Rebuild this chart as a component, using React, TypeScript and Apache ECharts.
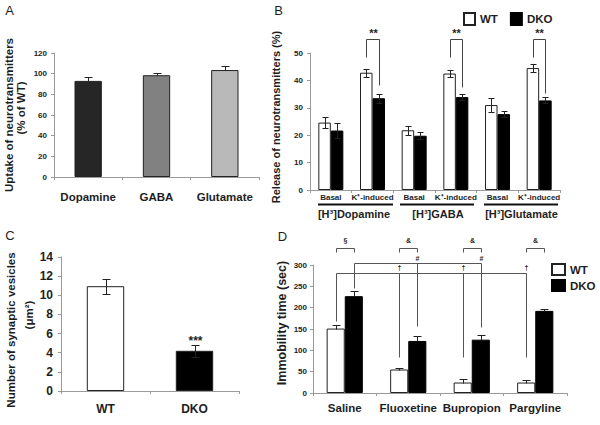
import React, { useEffect, useRef } from 'react';
import * as echarts from 'echarts';

const FONT = '"Liberation Sans", Arial, Helvetica, sans-serif';
const TXT = '#1e1e1e';
const AXIS = '#9a9a9a';

// ---------- Panel A ----------
const uptakeCategories = ['Dopamine', 'GABA', 'Glutamate'];
const uptakeValues = [93, 98.5, 103.5];
const uptakeErrors = [3.8, 2.5, 3.5];
const uptakeColors = ['#262626', '#818181', '#b9b9b9'];

// ---------- Panel B ----------
const releaseCategories = ['Basal', 'K⁺-induced', 'Basal', 'K⁺-induced', 'Basal', 'K⁺-induced'];
const releaseGroups = ['[H³]Dopamine', '[H³]GABA', '[H³]Glutamate'];
const releaseWT = [24.6, 42.8, 21.8, 42.5, 31.0, 44.5];
const releaseWTErr = [2.0, 1.5, 1.7, 1.3, 2.4, 1.5];
const releaseDKO = [21.7, 33.5, 19.8, 33.9, 27.7, 32.7];
const releaseDKOErr = [2.6, 1.7, 1.25, 1.1, 1.2, 1.1];
const releaseStarCats = [1, 3, 5];
const releaseStarWTLeg = [48.7, 48.7, 48.5];
const releaseStarDKOLeg = [38.4, 37.6, 35.4];
const releaseStarTop = 55.1;
const releaseStarText = 57.6;

// ---------- Panel C ----------
const vesicleCategories = ['WT', 'DKO'];
const vesicleValues = [10.95, 4.2];
const vesicleErrors = [0.8, 0.65];
const vesicleColors = ['#ffffff', '#000000'];

// ---------- Panel D ----------
const drugCategories = ['Saline', 'Fluoxetine', 'Bupropion', 'Pargyline'];
const immobilityWT = [151, 55, 24.5, 24.5];
const immobilityWTErr = [8.5, 3.5, 9, 7];
const immobilityDKO = [227, 122, 125, 192.5];
const immobilityDKOErr = [12.5, 12, 10.5, 5.5];
const pairSymbols = ['§', '&', '&', '&'];
const pairBracketTop = 340.6;
const pairBracketLeg = 330.5;
const pairSymbolY = 358.6;
const daggerTargets = [1, 2, 3];
const daggerLineY = 281.2;
const daggerSalineLeg = 168;
const daggerLegs = [84, 84, 84];
const daggerTextY = 294.6;
const hashTargets = [1, 2];
const hashLineY = 304;
const hashSalineLeg = 245;
const hashLegs = [157, 154];
const hashTextY = 316.4;

function errorBars(idx: number, vals: number[], errs: number[], off: number, gap: number, n: number, cap: number, both: boolean) {
  return {
    type: 'custom',
    xAxisIndex: idx,
    yAxisIndex: idx,
    silent: true,
    z: 10,
    clip: false,
    data: vals.map((v, i) => [i, v, errs[i]]),
    encode: { x: 0, y: 1 },
    renderItem: (params: any, api: any) => {
      const c = api.value(0);
      const v = api.value(1);
      const e = api.value(2);
      const band = api.size([1, 0])[0];
      const bw = (band * (1 - gap)) / n;
      const x = Math.round(api.coord([c, v])[0] + (off * bw) / 2) + 0.5;
      const yT = Math.round(api.coord([c, v + e])[1]) + 0.5;
      const yB = Math.round(api.coord([c, both ? v - e : v])[1]) + 0.5;
      const st = { stroke: '#222', lineWidth: 1 };
      const ch: any[] = [
        { type: 'line', shape: { x1: x, y1: yT, x2: x, y2: yB }, style: st },
        { type: 'line', shape: { x1: x - cap, y1: yT, x2: x + cap, y2: yT }, style: st },
      ];
      if (both) ch.push({ type: 'line', shape: { x1: x - cap, y1: yB, x2: x + cap, y2: yB }, style: st });
      return { type: 'group', children: ch };
    },
  };
}

type Pt = [number, number, number];
function annotations(idx: number, gap: number, n: number, lines: Pt[][], labels: [number, number, number, string][], font: string, color: string) {
  return {
    type: 'custom',
    xAxisIndex: idx,
    yAxisIndex: idx,
    silent: true,
    z: 11,
    clip: false,
    data: [[0, 0]],
    renderItem: (params: any, api: any) => {
      const band = api.size([1, 0])[0];
      const bw = (band * (1 - gap)) / n;
      const pt = (c: number, off: number, v: number) => {
        const p = api.coord([c, v]);
        return [Math.round(p[0] + (off * bw) / 2) + 0.5, Math.round(p[1]) + 0.5];
      };
      const ch: any[] = [];
      lines.forEach((pl) => {
        ch.push({
          type: 'polyline',
          shape: { points: pl.map((q) => pt(q[0], q[1], q[2])) },
          style: { stroke: color, lineWidth: 1, fill: null },
        });
      });
      labels.forEach((t) => {
        const p = pt(t[0], t[1], t[2]);
        ch.push({
          type: 'text',
          x: p[0],
          y: p[1],
          style: { text: t[3], fill: TXT, font, align: 'center', verticalAlign: 'middle' },
        });
      });
      return { type: 'group', children: ch };
    },
  };
}

function xCat(idx: number, data: string[], size: number, margin: number) {
  return {
    type: 'category',
    gridIndex: idx,
    data,
    axisLine: { show: true, lineStyle: { color: AXIS, width: 1 } },
    axisTick: { show: true, length: 3, lineStyle: { color: AXIS } },
    axisLabel: { color: TXT, fontFamily: FONT, fontWeight: 'bold', fontSize: size, margin, interval: 0 },
    splitLine: { show: false },
  };
}

function yVal(idx: number, max: number, interval: number, size: number, margin: number) {
  return {
    type: 'value',
    gridIndex: idx,
    min: 0,
    max,
    interval,
    axisLine: { show: true, lineStyle: { color: AXIS, width: 1 } },
    axisTick: { show: true, length: 3, lineStyle: { color: AXIS } },
    axisLabel: { color: TXT, fontFamily: FONT, fontWeight: 'bold', fontSize: size, margin },
    splitLine: { show: false },
  };
}

function rotText(x: number, y: number, text: string, size: number) {
  return {
    type: 'text',
    x,
    y,
    rotation: Math.PI / 2,
    style: { text, fill: TXT, font: `bold ${size}px ${FONT}`, align: 'center', verticalAlign: 'middle' },
  };
}

function plainText(x: number, y: number, text: string, font: string) {
  return {
    type: 'text',
    x,
    y,
    style: { text, fill: TXT, font, align: 'center', verticalAlign: 'middle' },
  };
}

export default function App() {
  const ref = useRef<HTMLDivElement>(null);
  useEffect(() => {
    if (!ref.current) return;
    const chart = echarts.init(ref.current, null, { renderer: 'svg' });

    const bLines: Pt[][] = releaseStarCats.map((c, i) => [
      [c, -1, releaseStarWTLeg[i]],
      [c, -1, releaseStarTop],
      [c, 1, releaseStarTop],
      [c, 1, releaseStarDKOLeg[i]],
    ]);
    const bLabels: [number, number, number, string][] = releaseStarCats.map((c) => [c, 0, releaseStarText, '**']);

    const dLines: Pt[][] = [];
    const dLabels: [number, number, number, string][] = [];
    pairSymbols.forEach((s, c) => {
      dLines.push([
        [c, -1, pairBracketLeg],
        [c, -1, pairBracketTop],
        [c, 1, pairBracketTop],
        [c, 1, pairBracketLeg],
      ]);
      dLabels.push([c, 0, pairSymbolY, s]);
    });
    dLines.push([
      [0, -1, daggerSalineLeg],
      [0, -1, daggerLineY],
      [daggerTargets[daggerTargets.length - 1], -1, daggerLineY],
    ]);
    daggerTargets.forEach((c, i) => {
      dLines.push([
        [c, -1, daggerLineY],
        [c, -1, daggerLegs[i]],
      ]);
      dLabels.push([c, -1, daggerTextY, '†']);
    });
    dLines.push([
      [0, 1, hashSalineLeg],
      [0, 1, hashLineY],
      [hashTargets[hashTargets.length - 1], 1, hashLineY],
    ]);
    hashTargets.forEach((c, i) => {
      dLines.push([
        [c, 1, hashLineY],
        [c, 1, hashLegs[i]],
      ]);
      dLabels.push([c, 1, hashTextY, '#']);
    });

    const whiteBar = { color: '#ffffff', borderColor: '#222', borderWidth: 1 };
    const blackBar = { color: '#000000', borderColor: '#000', borderWidth: 1 };

    const option: any = {
      animation: false,
      backgroundColor: '#ffffff',
      textStyle: { fontFamily: FONT },
      grid: [
        { left: 54, top: 53, width: 205, height: 124 },
        { left: 310, top: 53, width: 250, height: 137 },
        { left: 61, top: 257, width: 178, height: 134 },
        { left: 313, top: 265, width: 254, height: 128 },
      ],
      xAxis: [
        xCat(0, uptakeCategories, 11.5, 14),
        xCat(1, releaseCategories, 8, 3),
        xCat(2, vesicleCategories, 12, 12),
        xCat(3, drugCategories, 11.5, 9),
      ],
      yAxis: [yVal(0, 120, 20, 8, 7), yVal(1, 50, 10, 8, 7), yVal(2, 14, 2, 12, 8), yVal(3, 300, 50, 8, 6)],
      legend: [
        {
          data: ['WT', 'DKO'],
          left: 458,
          top: 7,
          icon: 'rect',
          itemWidth: 11,
          itemHeight: 12,
          itemGap: 12,
          textStyle: { color: TXT, fontFamily: FONT, fontWeight: 'bold', fontSize: 11.5 },
          selectedMode: false,
        },
        {
          data: ['WT', 'DKO'],
          left: 546,
          top: 258,
          orient: 'vertical',
          icon: 'rect',
          itemWidth: 13,
          itemHeight: 11,
          itemGap: 3,
          textStyle: { color: TXT, fontFamily: FONT, fontWeight: 'bold', fontSize: 11.5 },
          selectedMode: false,
        },
      ],
      series: [
        {
          type: 'bar',
          name: 'Uptake',
          xAxisIndex: 0,
          yAxisIndex: 0,
          barCategoryGap: '60%',
          data: uptakeValues.map((v, i) => ({
            value: v,
            itemStyle: { color: uptakeColors[i], borderColor: '#222', borderWidth: 1 },
          })),
        },
        errorBars(0, uptakeValues, uptakeErrors, 0, 0.6, 1, 4, false),

        {
          type: 'bar',
          name: 'WT',
          xAxisIndex: 1,
          yAxisIndex: 1,
          barGap: '0%',
          barCategoryGap: '40%',
          itemStyle: whiteBar,
          data: releaseWT,
        },
        {
          type: 'bar',
          name: 'DKO',
          xAxisIndex: 1,
          yAxisIndex: 1,
          barGap: '0%',
          barCategoryGap: '40%',
          itemStyle: blackBar,
          data: releaseDKO,
        },
        errorBars(1, releaseWT, releaseWTErr, -1, 0.4, 2, 3, true),
        errorBars(1, releaseDKO, releaseDKOErr, 1, 0.4, 2, 3, true),
        annotations(1, 0.4, 2, bLines, bLabels, `bold 11px ${FONT}`, '#444'),

        {
          type: 'bar',
          name: 'Vesicles',
          xAxisIndex: 2,
          yAxisIndex: 2,
          barCategoryGap: '58%',
          data: vesicleValues.map((v, i) => ({
            value: v,
            itemStyle: { color: vesicleColors[i], borderColor: '#222', borderWidth: 1 },
          })),
        },
        errorBars(2, vesicleValues, vesicleErrors, 0, 0.58, 1, 4, true),
        annotations(2, 0.58, 1, [], [[1, 0, 5.3, '***']], `bold 12px ${FONT}`, '#444'),

        {
          type: 'bar',
          name: 'WT',
          xAxisIndex: 3,
          yAxisIndex: 3,
          barGap: '0%',
          barCategoryGap: '43%',
          itemStyle: whiteBar,
          data: immobilityWT,
        },
        {
          type: 'bar',
          name: 'DKO',
          xAxisIndex: 3,
          yAxisIndex: 3,
          barGap: '0%',
          barCategoryGap: '43%',
          itemStyle: blackBar,
          data: immobilityDKO,
        },
        errorBars(3, immobilityWT, immobilityWTErr, -1, 0.43, 2, 4, false),
        errorBars(3, immobilityDKO, immobilityDKOErr, 1, 0.43, 2, 4, false),
        annotations(3, 0.43, 2, dLines, dLabels, `bold 7px ${FONT}`, '#555'),
      ],
      graphic: [
        plainText(9.5, 10, 'A', `13px ${FONT}`),
        plainText(278.5, 10.5, 'B', `13px ${FONT}`),
        plainText(10, 235, 'C', `13px ${FONT}`),
        plainText(282.5, 236, 'D', `13px ${FONT}`),
        rotText(9, 115, 'Uptake of neurotransmitters', 11.5),
        rotText(20.5, 108, '(% of WT)', 11.5),
        rotText(276, 117, 'Release of neurotransmitters (%)', 11),
        rotText(11, 330, 'Number of synaptic vesicles', 11.5),
        rotText(29, 315, '(μm²)', 11.5),
        rotText(282, 323, 'Immobility time (sec)', 12.5),
        { type: 'line', shape: { x1: 318, y1: 204.5, x2: 393, y2: 204.5 }, style: { stroke: '#111', lineWidth: 2 } },
        { type: 'line', shape: { x1: 400, y1: 204.5, x2: 474, y2: 204.5 }, style: { stroke: '#111', lineWidth: 2 } },
        { type: 'line', shape: { x1: 484, y1: 204.5, x2: 558, y2: 204.5 }, style: { stroke: '#111', lineWidth: 2 } },
        plainText(354, 214, releaseGroups[0], `bold 11px ${FONT}`),
        plainText(438, 214, releaseGroups[1], `bold 11px ${FONT}`),
        plainText(521.5, 214, releaseGroups[2], `bold 11px ${FONT}`),
      ],
    };
    chart.setOption(option);
    return () => chart.dispose();
  }, []);
  return <div ref={ref} style={{ position: 'fixed', left: 0, top: 0, width: 600, height: 425 }} />;
}
